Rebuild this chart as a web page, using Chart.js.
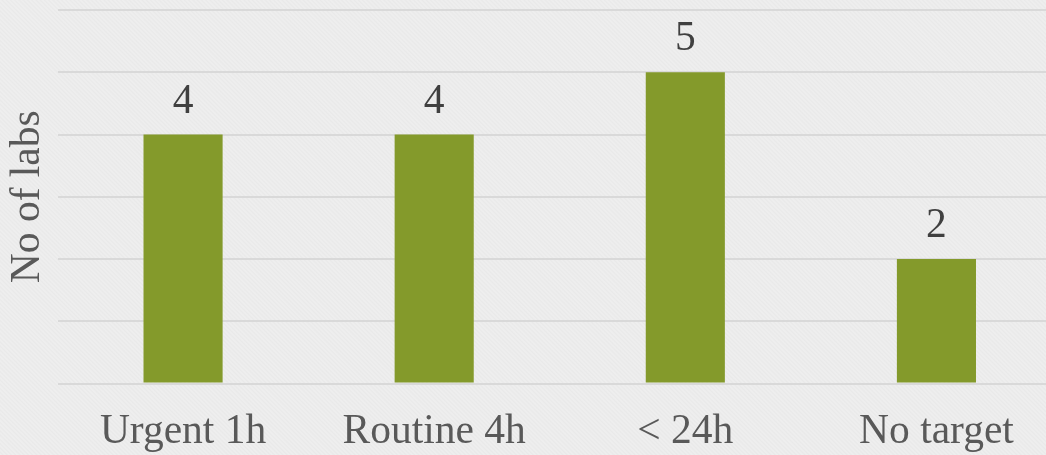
<!DOCTYPE html>
<html>
<head>
<meta charset="utf-8">
<script src="https://cdn.jsdelivr.net/npm/chart.js@4/dist/chart.umd.min.js"></script>
<style>
  html, body { margin: 0; padding: 0; }
  body {
    width: 1046px; height: 455px; overflow: hidden;
    background-color: #ececec;
    background-image: repeating-linear-gradient(45deg, #eeeeee 0px, #eeeeee 1px, #e9e9e9 2px, #ececec 3px);
  }
  #wrap { position: relative; width: 1062px; height: 455px; }
</style>
</head>
<body>
<div id="wrap"><canvas id="c"></canvas></div>
<script>
const categories = ['Urgent 1h', 'Routine 4h', '< 24h', 'No target'];
const labCounts = [4, 4, 5, 2];
const yMax = 6;
const yTitle = 'No of labs';

const serif = '"Liberation Serif", "DejaVu Serif", serif';
const textSize = 41.5;

// Writes each bar's value just above its top edge
const valueLabels = {
  id: 'valueLabels',
  afterDatasetsDraw(chart) {
    const ctx = chart.ctx;
    const meta = chart.getDatasetMeta(0);
    ctx.save();
    ctx.font = textSize + 'px ' + serif;
    ctx.fillStyle = '#404040';
    ctx.textAlign = 'center';
    ctx.textBaseline = 'alphabetic';
    meta.data.forEach((bar, i) => {
      ctx.fillText(String(chart.data.datasets[0].data[i]), bar.x, bar.y - 22);
    });
    ctx.restore();
  }
};

new Chart(document.getElementById('c'), {
  type: 'bar',
  data: {
    labels: categories,
    datasets: [{
      data: labCounts,
      backgroundColor: '#849a2b',
      borderWidth: 0,
      barPercentage: 0.315,
      categoryPercentage: 1.0
    }]
  },
  options: {
    responsive: true,
    maintainAspectRatio: false,
    animation: false,
    layout: { padding: { top: 10, right: 0, left: 0, bottom: 0 } },
    plugins: { legend: { display: false }, tooltip: { enabled: false } },
    scales: {
      x: {
        grid: { display: false, drawTicks: false },
        border: { display: false },
        ticks: {
          color: '#595959',
          font: { family: serif, size: textSize },
          padding: 24,
          maxRotation: 0,
          autoSkip: false
        },
        afterFit(scale) { scale.height = 71.5; }
      },
      y: {
        min: 0,
        max: yMax,
        ticks: { stepSize: 1, display: false },
        grid: { color: '#d9d9d9', lineWidth: 2, drawTicks: false },
        border: { display: false },
        title: {
          display: true,
          text: yTitle,
          color: '#595959',
          font: { family: serif, size: textSize },
          padding: { top: 3, bottom: 0 }
        },
        afterFit(scale) { scale.width = 57.5; }
      }
    }
  },
  plugins: [valueLabels]
});
</script>
</body>
</html>
